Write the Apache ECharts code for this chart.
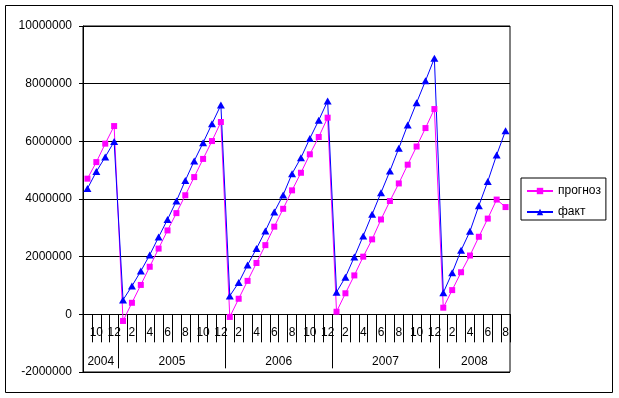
<!DOCTYPE html>
<html>
<head>
<meta charset="utf-8">
<script src="https://cdn.jsdelivr.net/npm/echarts@6/dist/echarts.min.js"></script>
<style>
html,body{margin:0;padding:0;background:#fff;}
#c{width:619px;height:398px;}
</style>
</head>
<body>
<div id="c"></div>
<script>
// month numbers for each category (Sep 2004 .. Aug 2008)
const months = [9,10,11,12,
  1,2,3,4,5,6,7,8,9,10,11,12,
  1,2,3,4,5,6,7,8,9,10,11,12,
  1,2,3,4,5,6,7,8,9,10,11,12,
  1,2,3,4,5,6,7,8];
const years = ['2004','2005','2006','2007','2008'];
const monthsPerYear = [4,12,12,12,8];
const yTicks = [-2000000, 0, 2000000, 4000000, 6000000, 8000000, 10000000];

const prognoz = [4705000, 5280000, 5920000, 6530000,
  -230000, 400000, 1020000, 1650000, 2280000, 2910000, 3510000, 4130000, 4760000, 5390000, 6010000, 6670000,
  -90000, 540000, 1160000, 1780000, 2400000, 3040000, 3660000, 4300000, 4910000, 5550000, 6150000, 6820000,
  90000, 730000, 1350000, 2000000, 2600000, 3290000, 3930000, 4540000, 5190000, 5820000, 6460000, 7120000,
  230000, 840000, 1460000, 2040000, 2690000, 3320000, 3980000, 3720000];
const fakt = [4360000, 4950000, 5460000, 5990000,
  500000, 980000, 1500000, 2060000, 2680000, 3290000, 3930000, 4640000, 5320000, 5950000, 6610000, 7260000,
  640000, 1100000, 1710000, 2280000, 2890000, 3550000, 4140000, 4880000, 5430000, 6100000, 6730000, 7400000,
  770000, 1290000, 1990000, 2720000, 3470000, 4220000, 4970000, 5760000, 6570000, 7340000, 8100000, 8880000,
  750000, 1440000, 2220000, 2880000, 3770000, 4610000, 5530000, 6370000];

// derived: year boundaries and centers on a 0..N scale
const yearBounds = [];
const yearCenters = [];
let acc = 0;
monthsPerYear.forEach((n, i) => {
  yearCenters.push(acc + n / 2);
  acc += n;
  if (i < monthsPerYear.length - 1) yearBounds.push(acc);
});
const total = acc;

const GRID_TOP = 26, GRID_BOTTOM = 26, H = 398;
const gridH = H - GRID_TOP - GRID_BOTTOM;
const yMin = yTicks[0], yMax = yTicks[yTicks.length - 1];
// move the category axis up from the grid bottom to the zero line
const zeroOffset = -gridH * (0 - yMin) / (yMax - yMin);

const FONT = '"Liberation Sans", Arial, sans-serif';
const chart = echarts.init(document.getElementById('c'), null, {renderer: 'canvas'});
chart.setOption({
  animation: false,
  backgroundColor: '#fff',
  textStyle: {fontFamily: FONT, color: '#000'},
  graphic: [{
    type: 'rect', shape: {x: 5.5, y: 5.5, width: 607, height: 387},
    style: {fill: 'none', stroke: '#000', lineWidth: 1}, silent: true, z: 0
  }],
  grid: {left: 83, right: 109, top: GRID_TOP, bottom: GRID_BOTTOM, show: true, borderColor: '#000', borderWidth: 1,
    backgroundColor: 'transparent', containLabel: false, outerBoundsMode: 'none'},
  legend: {
    orient: 'vertical', left: 521, top: 178,
    padding: [7, 5, 2, 5], itemGap: 9, itemWidth: 26, itemHeight: 8, itemTextGap: 4,
    borderColor: '#000', borderWidth: 1, backgroundColor: '#fff',
    textStyle: {fontFamily: FONT, fontSize: 12, lineHeight: 12, color: '#000'},
    data: ['прогноз', 'факт']
  },
  xAxis: [{
    type: 'category', data: months, boundaryGap: true, position: 'bottom', offset: zeroOffset,
    axisLine: {onZero: false, lineStyle: {color: '#000', width: 1}},
    axisTick: {show: true, length: 28, interval: 0, lineStyle: {color: '#000'}},
    axisLabel: {interval: 0, margin: 12, fontFamily: FONT, fontSize: 12, color: '#000', hideOverlap: false,
      formatter: v => (Number(v) % 2 === 0 ? String(v) : '')},
    splitLine: {show: false}
  }, {
    type: 'value', min: 0, max: total, position: 'bottom', offset: zeroOffset,
    axisLine: {onZero: false, lineStyle: {color: '#000', width: 1}},
    axisTick: {show: true, length: 54, customValues: yearBounds, lineStyle: {color: '#000'}},
    axisLabel: {show: true, margin: 41, fontFamily: FONT, fontSize: 12, color: '#000',
      customValues: yearCenters, hideOverlap: false,
      formatter: v => { const i = yearCenters.indexOf(v); return i >= 0 ? years[i] : ''; }},
    splitLine: {show: false}
  }],
  yAxis: {
    type: 'value', min: yMin, max: yMax, interval: 2000000,
    axisLine: {show: true, lineStyle: {color: '#000'}},
    axisTick: {show: true, length: 4, lineStyle: {color: '#000'}},
    axisLabel: {margin: 11, fontFamily: FONT, fontSize: 12, color: '#000', formatter: v => String(v)},
    splitLine: {show: true, lineStyle: {color: '#000', width: 1}}
  },
  series: [{
    name: 'прогноз', type: 'line', data: prognoz, xAxisIndex: 0,
    symbol: 'rect', symbolSize: 6, showAllSymbol: true,
    lineStyle: {color: '#FF00FF', width: 1}, itemStyle: {color: '#FF00FF'}
  }, {
    name: 'факт', type: 'line', data: fakt, xAxisIndex: 0,
    symbol: 'triangle', symbolSize: [8, 7], showAllSymbol: true,
    lineStyle: {color: '#0000FF', width: 1}, itemStyle: {color: '#0000FF'}
  }]
});
</script>
</body>
</html>
